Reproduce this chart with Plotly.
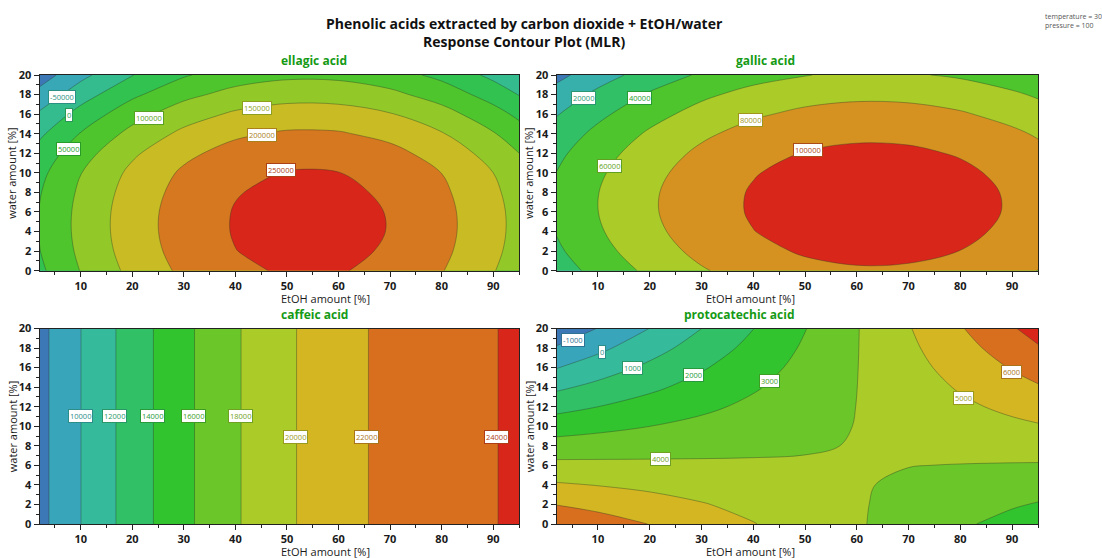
import plotly.graph_objects as go

# ---------------- data ----------------
etoh_grid = [2, 10, 20, 30, 40, 50, 60, 70, 80, 90, 95]          # EtOH amount [%]
water_grid = [0, 2, 4, 6, 8, 10, 12, 14, 16, 18, 20]             # water amount [%]
water_edges = [0, 20]

ellagic_z = [
    [40200, 101640, 164040, 210440, 240840, 255240, 253640, 236040, 202440, 152840, 122040],
    [48630, 110070, 172470, 218870, 249270, 263670, 262070, 244470, 210870, 161270, 130470],
    [52560, 114000, 176400, 222800, 253200, 267600, 266000, 248400, 214800, 165200, 134400],
    [52000, 113440, 175840, 222240, 252640, 267040, 265440, 247840, 214240, 164640, 133840],
    [46940, 108380, 170780, 217180, 247580, 261980, 260380, 242780, 209180, 159580, 128780],
    [37390, 98830, 161230, 207630, 238030, 252430, 250830, 233230, 199630, 150030, 119230],
    [18440, 79880, 142280, 188680, 219080, 233480, 231880, 214280, 180680, 131080, 100280],
    [-8950, 52490, 114890, 161290, 191690, 206090, 204490, 186890, 153290, 103690, 72890],
    [-42980, 18460, 80860, 127260, 157660, 172060, 170460, 152860, 119260, 69660, 38860],
    [-83650, -22210, 40190, 86590, 116990, 131390, 129790, 112190, 78590, 28990, -1810],
    [-125120, -63680, -1280, 45120, 75520, 89920, 88320, 70720, 37120, -12480, -43280],
]
ellagic_levels = [-100000, -50000, 0, 50000, 100000, 150000, 200000, 250000]
ellagic_labels = ["-50000", "0", "50000", "100000", "150000", "200000", "250000"]

gallic_z = [
    [29890, 46637, 64270, 78238, 88539, 95174, 98144, 97447, 93085, 85056, 79667],
    [36618, 53365, 70998, 84966, 95267, 101902, 104872, 104175, 99813, 91784, 86395],
    [41026, 57773, 75406, 89374, 99675, 106310, 109280, 108583, 104221, 96192, 90803],
    [43114, 59861, 77494, 91462, 101763, 108398, 111368, 110671, 106309, 98280, 92891],
    [42882, 59629, 77262, 91230, 101531, 108166, 111136, 110439, 106077, 98048, 92659],
    [40330, 57077, 74710, 88678, 98979, 105614, 108584, 107887, 103525, 95496, 90107],
    [35458, 52205, 69838, 83806, 94107, 100742, 103712, 103015, 98653, 90624, 85235],
    [28266, 45013, 62646, 76614, 86915, 93550, 96520, 95823, 91461, 83432, 78043],
    [18754, 35501, 53134, 67102, 77403, 84038, 87008, 86311, 81949, 73920, 68531],
    [7800, 24547, 42180, 56148, 66449, 73084, 76054, 75357, 70995, 62966, 57577],
    [-5700, 11047, 28680, 42648, 52949, 59584, 62554, 61857, 57495, 49466, 44077],
]
gallic_levels = [0, 20000, 40000, 60000, 80000, 100000]
gallic_labels = ["20000", "40000", "60000", "80000", "100000"]

caffeic_z = [
    [7407, 9985, 12937, 15534, 17790, 19707, 21283, 22520, 23416, 23972, 24122],
    [7407, 9985, 12937, 15534, 17790, 19707, 21283, 22520, 23416, 23972, 24122],
]
caffeic_levels = [8000, 10000, 12000, 14000, 16000, 18000, 20000, 22000, 24000]
caffeic_labels = ["10000", "12000", "14000", "16000", "18000", "20000", "22000", "24000"]

protocatechic_z = [
    [6830, 6452, 5980, 5508, 5036, 4564, 4092, 3620, 3148, 2676, 2440],
    [5971, 5710, 5384, 5057, 4731, 4405, 4078, 3752, 3426, 3099, 2936],
    [5112, 4968, 4787, 4606, 4426, 4245, 4064, 3884, 3703, 3522, 3432],
    [4253, 4225, 4190, 4155, 4120, 4085, 4050, 4015, 3980, 3945, 3928],
    [3394, 3483, 3593, 3704, 3815, 3926, 4036, 4147, 4258, 4369, 4424],
    [2535, 2740, 2997, 3253, 3510, 3766, 4022, 4279, 4535, 4792, 4920],
    [1676, 1998, 2400, 2802, 3204, 3606, 4009, 4411, 4813, 5215, 5416],
    [817, 1255, 1803, 2351, 2899, 3447, 3995, 4542, 5090, 5638, 5912],
    [-42, 513, 1206, 1900, 2594, 3287, 3981, 4674, 5368, 6061, 6408],
    [-901, -230, 610, 1449, 2288, 3127, 3967, 4806, 5645, 6484, 6904],
    [-1760, -972, 13, 998, 1983, 2968, 3953, 4938, 5923, 6908, 7400],
]
protocatechic_levels = [-1000, 0, 1000, 2000, 3000, 4000, 5000, 6000, 7000]
protocatechic_labels = ["-1000", "0", "1000", "2000", "3000", "4000", "5000", "6000"]

# ---------------- layout / style (not data) ----------------
W, H = 1102, 558
FONT = "Open Sans"
PALETTE = ["#3c78b5", "#39a5ba", "#35bb9c", "#31c065", "#31c42e",
           "#6bc62a", "#aacb28", "#d3b621", "#d76f1f", "#d9261b"]

label_pos = {
    "ellagic": [(6.3, 17.8), (7.8, 15.9), (7.6, 12.4), (23.2, 15.6), (44.2, 16.6), (45.1, 13.9), (48.8, 10.3)],
    "gallic": [(7.2, 17.6), (18.0, 17.6), (12.3, 10.7), (39.4, 15.4), (50.6, 12.3)],
    "caffeic": [(9.95, 11.05), (16.6, 11.05), (23.9, 11.05), (31.9, 11.05), (41.0, 11.05),
                (51.7, 8.93), (65.4, 8.93), (90.6, 8.93)],
    "protocatechic": [(5.1, 18.8), (10.8, 17.6), (16.7, 16.0), (28.4, 15.2), (43.2, 14.6),
                      (22.0, 6.6), (80.7, 12.9), (89.8, 15.5)],
}

# plot areas in pixels: (left, right, top, bottom)
boxes = {
    "ellagic": (39.5, 519.0, 75.0, 270.7),
    "gallic": (556.5, 1038.0, 75.0, 270.7),
    "caffeic": (39.5, 519.0, 328.5, 524.0),
    "protocatechic": (556.5, 1038.0, 328.5, 524.0),
}


def hex2rgb(h):
    return tuple(int(h[i:i + 2], 16) for i in (1, 3, 5))


def palette_at(t, dark=1.0):
    s = max(0.0, min(1.0, t)) * (len(PALETTE) - 1)
    i = min(int(s), len(PALETTE) - 2)
    f = s - i
    a, b = hex2rgb(PALETTE[i]), hex2rgb(PALETTE[i + 1])
    c = [round((p + (q - p) * f) * dark) for p, q in zip(a, b)]
    return "rgb(%d,%d,%d)" % tuple(c)


def stepped_scale(nb):
    sc = []
    for k in range(nb):
        col = palette_at(k / (nb - 1))
        sc.append([k / nb, col])
        sc.append([(k + 1) / nb, col])
    return sc


panels = [
    ("ellagic", "ellagic acid", "x", "y", water_grid, ellagic_z, ellagic_levels, ellagic_labels),
    ("gallic", "gallic acid", "x2", "y2", water_grid, gallic_z, gallic_levels, gallic_labels),
    ("caffeic", "caffeic acid", "x3", "y3", water_edges, caffeic_z, caffeic_levels, caffeic_labels),
    ("protocatechic", "protocatechic acid", "x4", "y4", water_grid, protocatechic_z,
     protocatechic_levels, protocatechic_labels),
]

fig = go.Figure()
annotations = []
layout_axes = {}

for key, title, xa, ya, ys, z, levels, labels in panels:
    nb = len(levels) + 1
    size = levels[1] - levels[0]
    fig.add_trace(go.Contour(
        x=etoh_grid, y=ys, z=z, xaxis=xa, yaxis=ya,
        contours=dict(start=levels[0], end=levels[-1], size=size,
                      coloring="fill", showlines=True, showlabels=False),
        line=dict(color="rgba(45,55,40,0.55)", width=0.7, smoothing=1.0),
        colorscale=stepped_scale(nb), showscale=False, hoverinfo="skip",
    ))

    # contour level labels in white boxes
    for text, (lx, ly) in zip(labels, label_pos[key]):
        lev = float(text)
        k = levels.index(lev) if lev in levels else 0
        col = palette_at((k + 0.5) / (nb - 1), dark=0.8)
        annotations.append(dict(
            x=lx, y=ly, xref=xa, yref=ya, text=text, showarrow=False,
            font=dict(family=FONT, size=7.5, color=col),
            bgcolor="white", bordercolor=col, borderwidth=1, borderpad=1,
        ))

    l, r, t, b = boxes[key]
    xname = "xaxis" if xa == "x" else "xaxis" + xa[1:]
    yname = "yaxis" if ya == "y" else "yaxis" + ya[1:]
    common = dict(showgrid=False, zeroline=False, showline=True, linecolor="#222",
                  linewidth=1, mirror=True, ticks="outside", ticklen=5, tickwidth=1,
                  tickcolor="#222", automargin=False,
                  tickfont=dict(family=FONT, size=11, color="#1a1a1a", weight="bold"))
    layout_axes[xname] = dict(common, domain=[l / W, r / W], range=[2, 95], anchor=ya,
                              tick0=0, dtick=10, ticklabelstandoff=0,
                              minor=dict(dtick=5, ticks="outside", ticklen=3, tickcolor="#222",
                                         showgrid=False))
    layout_axes[yname] = dict(common, domain=[1 - b / H, 1 - t / H], range=[0, 20], anchor=xa,
                              tick0=0, dtick=2, ticklabelstandoff=0,
                              minor=dict(dtick=1, ticks="outside", ticklen=3, tickcolor="#222",
                                         showgrid=False))

    # subplot title
    annotations.append(dict(x=(l + r) / 2 / W, y=1 - (t - 14) / H, xref="paper", yref="paper",
                            text="<b>%s</b>" % title, showarrow=False, yanchor="middle",
                            font=dict(family=FONT, size=12, color="#159a15")))
    # axis titles
    annotations.append(dict(x=(l + r) / 2 / W, y=1 - (b + 27.5) / H, xref="paper", yref="paper",
                            text="EtOH amount [%]", showarrow=False, yanchor="middle",
                            font=dict(family=FONT, size=11, color="#1a1a1a")))
    annotations.append(dict(x=(l - 27.5) / W, y=1 - (t + b) / 2 / H, xref="paper", yref="paper",
                            text="water amount [%]", showarrow=False, textangle=-90,
                            xanchor="center", yanchor="middle",
                            font=dict(family=FONT, size=11, color="#1a1a1a")))

# main title
annotations.append(dict(x=524 / W, y=1 - 33 / H, xref="paper", yref="paper",
                        text="<b>Phenolic acids extracted by carbon dioxide + EtOH/water<br>"
                             "Response Contour Plot (MLR)</b>",
                        showarrow=False, xanchor="center", yanchor="middle",
                        font=dict(family=FONT, size=14, color="#111")))
# condition note
annotations.append(dict(x=1043 / W, y=1 - 10 / H, xref="paper", yref="paper",
                        text="temperature = 30<br>pressure = 100", showarrow=False,
                        xanchor="left", yanchor="top", align="left",
                        font=dict(family=FONT, size=7, color="#555")))

fig.update_layout(
    width=W, height=H, template="none",
    margin=dict(l=0, r=0, t=0, b=0, autoexpand=False),
    paper_bgcolor="white", plot_bgcolor="white",
    showlegend=False, annotations=annotations, **layout_axes,
)

fig.write_html("out.html")
